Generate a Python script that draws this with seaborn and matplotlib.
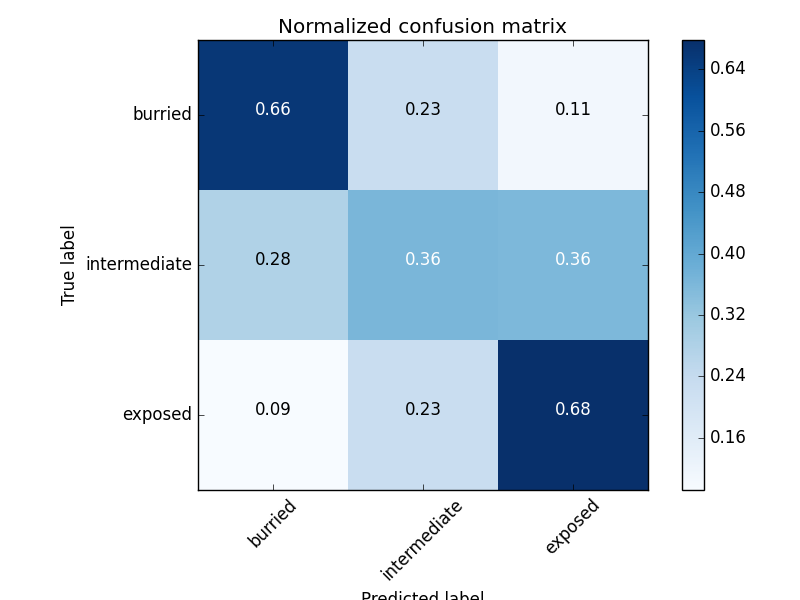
import numpy as np
import pandas as pd
import matplotlib
matplotlib.use('Agg')
import matplotlib.pyplot as plt
import seaborn as sns

plt.style.use('classic')
plt.rcParams['font.family'] = ['DejaVu Sans']

# data
classes = ['burried', 'intermediate', 'exposed']
row_burried = [0.66, 0.23, 0.11]
row_intermediate = [0.278, 0.364, 0.358]
row_exposed = [0.092, 0.23, 0.678]
cbar_ticks = [0.16, 0.24, 0.32, 0.40, 0.48, 0.56, 0.64]

cm = pd.DataFrame([row_burried, row_intermediate, row_exposed],
                  index=classes, columns=classes)

fig = plt.figure(figsize=(8, 6), dpi=100, facecolor='white')
ax = fig.add_axes([0.2475, 0.1833, 0.5625, 0.75])
cax = fig.add_axes([0.8525, 0.1833, 0.0275, 0.75])

sns.heatmap(cm, cmap='Blues', ax=ax, cbar_ax=cax, square=False,
            cbar_kws={'ticks': cbar_ticks})

# text labels, white on dark cells
thresh = cm.values.max() / 2.
for i in range(cm.shape[0]):
    for j in range(cm.shape[1]):
        v = cm.values[i, j]
        ax.text(j + 0.5, i + 0.5, '{:.2f}'.format(v), ha='center',
                color='white' if v > thresh else 'black', fontsize=12)

for s in ax.spines.values():
    s.set_visible(True)
    s.set_linewidth(1)
    s.set_color('black')

ax.set_title('Normalized confusion matrix')
ax.set_ylabel('True label')
ax.set_xlabel('Predicted label')
ax.set_xticks(np.arange(3) + 0.5)
ax.set_xticklabels(classes, rotation=45)
ax.set_yticks(np.arange(3) + 0.5)
ax.set_yticklabels(classes, rotation=0)
ax.tick_params(direction='in', top=True, right=True, length=4, labelsize=12)

cb = ax.collections[0].colorbar
cb.outline.set_linewidth(1)
cb.outline.set_edgecolor('black')
cb.ax.tick_params(direction='in', length=4, labelsize=12)
cb.ax.set_yticklabels(['{:.2f}'.format(t) for t in cbar_ticks])

fig.savefig('out.png', dpi=100, facecolor='white')
